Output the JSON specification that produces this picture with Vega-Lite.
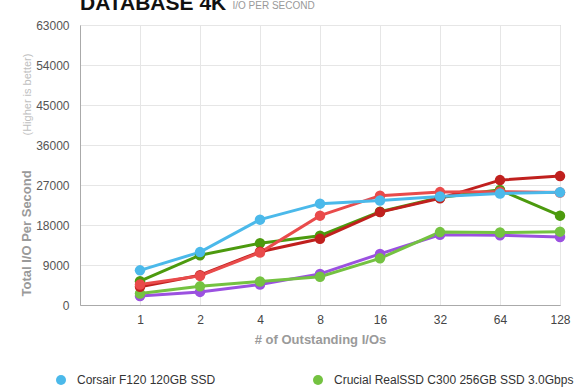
{
  "$schema": "https://vega.github.io/schema/vega-lite/v6.json",
  "width": 480,
  "height": 280,
  "autosize": {"type": "none"},
  "padding": {"left": 80, "top": 25, "right": 20, "bottom": 85},
  "background": "white",
  "config": {
    "font": "Liberation Sans",
    "view": {"stroke": "#b5b5b5", "strokeWidth": 1}
  },
  "title": {
    "text": "DATABASE 4K",
    "orient": "top",
    "anchor": "start",
    "frame": "group",
    "fontSize": 21,
    "fontWeight": "bold",
    "color": "#111111",
    "baseline": "alphabetic",
    "offset": 0,
    "dy": 31
  },
  "data": {
    "values": [
      {"drive": "Other SSD 4", "qd": "1", "iops": 2000},
      {"drive": "Other SSD 4", "qd": "2", "iops": 2950},
      {"drive": "Other SSD 4", "qd": "4", "iops": 4600},
      {"drive": "Other SSD 4", "qd": "8", "iops": 7000},
      {"drive": "Other SSD 4", "qd": "16", "iops": 11500},
      {"drive": "Other SSD 4", "qd": "32", "iops": 15800},
      {"drive": "Other SSD 4", "qd": "64", "iops": 15700},
      {"drive": "Other SSD 4", "qd": "128", "iops": 15300},
      {"drive": "Crucial RealSSD C300 256GB SSD 3.0Gbps", "qd": "1", "iops": 2600},
      {"drive": "Crucial RealSSD C300 256GB SSD 3.0Gbps", "qd": "2", "iops": 4200},
      {"drive": "Crucial RealSSD C300 256GB SSD 3.0Gbps", "qd": "4", "iops": 5300},
      {"drive": "Crucial RealSSD C300 256GB SSD 3.0Gbps", "qd": "8", "iops": 6350},
      {"drive": "Crucial RealSSD C300 256GB SSD 3.0Gbps", "qd": "16", "iops": 10500},
      {"drive": "Crucial RealSSD C300 256GB SSD 3.0Gbps", "qd": "32", "iops": 16400},
      {"drive": "Crucial RealSSD C300 256GB SSD 3.0Gbps", "qd": "64", "iops": 16300},
      {"drive": "Crucial RealSSD C300 256GB SSD 3.0Gbps", "qd": "128", "iops": 16500},
      {"drive": "Other SSD 1", "qd": "1", "iops": 5350},
      {"drive": "Other SSD 1", "qd": "2", "iops": 11200},
      {"drive": "Other SSD 1", "qd": "4", "iops": 13900},
      {"drive": "Other SSD 1", "qd": "8", "iops": 15600},
      {"drive": "Other SSD 1", "qd": "16", "iops": 21000},
      {"drive": "Other SSD 1", "qd": "32", "iops": 24200},
      {"drive": "Other SSD 1", "qd": "64", "iops": 25900},
      {"drive": "Other SSD 1", "qd": "128", "iops": 20100},
      {"drive": "Other SSD 2", "qd": "1", "iops": 4100},
      {"drive": "Other SSD 2", "qd": "2", "iops": 6700},
      {"drive": "Other SSD 2", "qd": "4", "iops": 12000},
      {"drive": "Other SSD 2", "qd": "8", "iops": 14900},
      {"drive": "Other SSD 2", "qd": "16", "iops": 20900},
      {"drive": "Other SSD 2", "qd": "32", "iops": 24000},
      {"drive": "Other SSD 2", "qd": "64", "iops": 28100},
      {"drive": "Other SSD 2", "qd": "128", "iops": 29000},
      {"drive": "Other SSD 3", "qd": "1", "iops": 4600},
      {"drive": "Other SSD 3", "qd": "2", "iops": 6550},
      {"drive": "Other SSD 3", "qd": "4", "iops": 11800},
      {"drive": "Other SSD 3", "qd": "8", "iops": 20100},
      {"drive": "Other SSD 3", "qd": "16", "iops": 24600},
      {"drive": "Other SSD 3", "qd": "32", "iops": 25400},
      {"drive": "Other SSD 3", "qd": "64", "iops": 25500},
      {"drive": "Other SSD 3", "qd": "128", "iops": 25300},
      {"drive": "Corsair F120 120GB SSD", "qd": "1", "iops": 7800},
      {"drive": "Corsair F120 120GB SSD", "qd": "2", "iops": 11900},
      {"drive": "Corsair F120 120GB SSD", "qd": "4", "iops": 19200},
      {"drive": "Corsair F120 120GB SSD", "qd": "8", "iops": 22800},
      {"drive": "Corsair F120 120GB SSD", "qd": "16", "iops": 23500},
      {"drive": "Corsair F120 120GB SSD", "qd": "32", "iops": 24400},
      {"drive": "Corsair F120 120GB SSD", "qd": "64", "iops": 25100},
      {"drive": "Corsair F120 120GB SSD", "qd": "128", "iops": 25350}
    ]
  },
  "layer": [
    {
      "mark": {"type": "line", "strokeWidth": 3},
      "encoding": {
        "x": {
          "field": "qd",
          "type": "ordinal",
          "sort": null,
          "scale": {"type": "point", "domain": ["", "1", "2", "4", "8", "16", "32", "64", "128"], "padding": 0},
          "axis": {
            "title": "# of Outstanding I/Os",
            "titleFontSize": 13,
            "titleFontWeight": "bold",
            "titleColor": "#9a9a9a",
            "titlePadding": 8,
            "labelFontSize": 12,
            "labelColor": "#444444",
            "labelPadding": 9,
            "labelAngle": 0,
            "ticks": false,
            "domainColor": "#aaaaaa",
            "grid": true,
            "gridColor": "#e6e6e6"
          }
        },
        "y": {
          "field": "iops",
          "type": "quantitative",
          "scale": {"domain": [0, 63000], "nice": false},
          "axis": {
            "values": [0, 9000, 18000, 27000, 36000, 45000, 54000, 63000],
            "format": "d",
            "labelFontSize": 12,
            "labelColor": "#555555",
            "labelPadding": 11,
            "ticks": false,
            "domainColor": "#aaaaaa",
            "gridColor": "#e6e6e6",
            "title": "Total I/O Per Second",
            "titleFontSize": 13,
            "titleFontWeight": "bold",
            "titleColor": "#9a9a9a",
            "titleAngle": 270,
            "titleAlign": "left",
            "titleBaseline": "alphabetic",
            "titleX": -50,
            "titleY": 271
          }
        },
        "color": {
          "field": "drive",
          "type": "nominal",
          "scale": {
            "domain": ["Corsair F120 120GB SSD", "Crucial RealSSD C300 256GB SSD 3.0Gbps", "Other SSD 1", "Other SSD 2", "Other SSD 3", "Other SSD 4"],
            "range": ["#4bb9ea", "#74c241", "#4c9a0e", "#c0201e", "#e94b4b", "#9b51e0"]
          },
          "legend": {
            "orient": "none",
            "legendX": -25,
            "legendY": 349,
            "columns": 2,
            "columnPadding": 96,
            "values": ["Corsair F120 120GB SSD", "Crucial RealSSD C300 256GB SSD 3.0Gbps"],
            "title": null,
            "symbolType": "circle",
            "symbolSize": 100,
            "symbolStrokeWidth": 0,
            "labelFontSize": 12,
            "labelColor": "#333333",
            "labelOffset": 10,
            "labelLimit": 400
          }
        }
      }
    },
    {
      "mark": {"type": "point", "filled": true, "size": 110, "opacity": 1},
      "encoding": {
        "x": {
          "field": "qd",
          "type": "ordinal",
          "sort": null,
          "axis": {
            "orient": "top",
            "labels": false,
            "ticks": false,
            "domain": false,
            "grid": false,
            "title": "I/O PER SECOND",
            "titleFontSize": 10,
            "titleFontWeight": "normal",
            "titleColor": "#999999",
            "titleAngle": 0,
            "titleAlign": "left",
            "titleBaseline": "alphabetic",
            "titleX": 152,
            "titleY": -17
          }
        },
        "y": {
          "field": "iops",
          "type": "quantitative",
          "axis": {
            "orient": "right",
            "labels": false,
            "ticks": false,
            "domain": false,
            "grid": false,
            "title": "(Higher is better)",
            "titleFontSize": 11,
            "titleFontWeight": "normal",
            "titleColor": "#c0c0c0",
            "titleAngle": 270,
            "titleAlign": "left",
            "titleBaseline": "alphabetic",
            "titleX": -530,
            "titleY": 110
          }
        },
        "color": {"field": "drive", "type": "nominal"}
      }
    }
  ],
  "resolve": {"axis": {"x": "independent", "y": "independent"}}
}
